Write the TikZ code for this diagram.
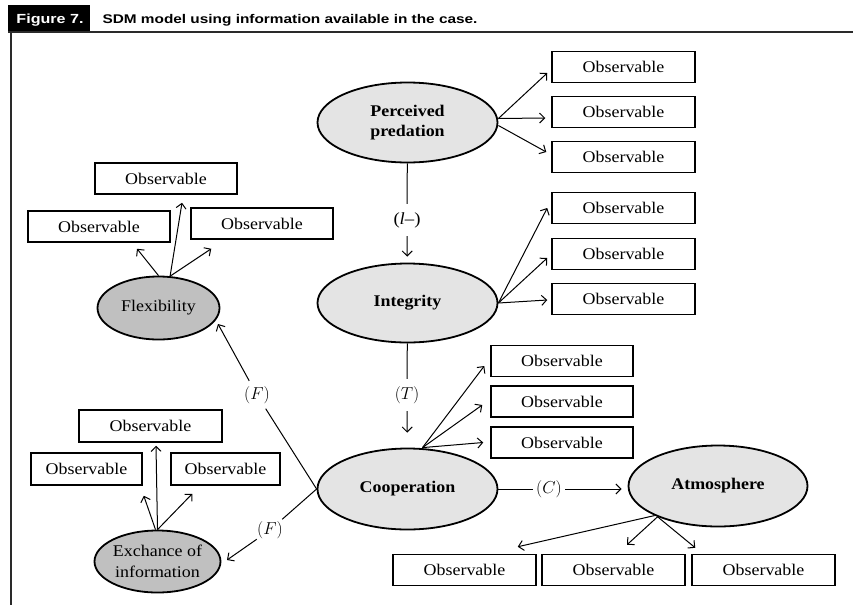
\documentclass[tikz,border=0pt]{standalone}
\usepackage{fontspec}
\setmainfont[FakeStretch=1.1]{Liberation Serif}
\newfontfamily\hdfont[FakeStretch=1.22]{Liberation Sans}
\usetikzlibrary{shapes.geometric,arrows.meta}
\definecolor{latent}{HTML}{E4E4E4}
\definecolor{latentdark}{HTML}{C0C0C0}
\definecolor{rule}{HTML}{2A2A2A}

\begin{document}
\begin{tikzpicture}[x=1pt,y=-1pt,
  lv/.style={ellipse, draw, line width=1.8pt, fill=latent, inner sep=0pt,
    align=center, font=\fontsize{16.3}{20}\selectfont\bfseries},
  lvdark/.style={ellipse, draw, line width=1.8pt, fill=latentdark, inner sep=0pt,
    align=center, font=\fontsize{16.3}{21}\selectfont},
  obs/.style={rectangle, draw, line width=1.5pt, minimum width=143pt,
    minimum height=31pt, inner sep=0pt, font=\fontsize{16.3}{20}\selectfont},
  arr/.style={line width=1pt, -{Straight Barb[length=5pt,width=10pt]}},
  con/.style={line width=1pt},
  edgelab/.style={circle, minimum size=32pt, inner sep=0pt,
    font=\fontsize{17}{20}\selectfont}
]
\useasboundingbox (0,0) rectangle (858,605);

% heading bar and frame
\fill[black] (8,5) rectangle (90,33);
\node[anchor=base, text=white, font=\hdfont\fontsize{13.2}{15}\selectfont\bfseries]
  (fignum) at (50,23) {Figure 7.};
\node[anchor=base west, font=\hdfont\fontsize{12.6}{14}\selectfont\bfseries]
  (figtitle) at (99,23) {SDM model using information available in the case.};
\draw[rule, line width=1.8pt] (8,32) -- (853,32);
\draw[rule, line width=2pt] (11,32) -- (11,605);

% latent variables
\node[lv, minimum width=180pt, minimum height=80pt] (pp) at (407.5,122.5) {Perceived\\predation};
\node[lv, minimum width=180pt, minimum height=79pt] (integ) at (407.5,303) {Integrity};
\node[lv, minimum width=180pt, minimum height=81pt] (coop) at (407.5,489) {Cooperation};
\node[lv, minimum width=179pt, minimum height=81pt] (atm) at (718,486) {Atmosphere};
\node[lvdark, minimum width=122pt, minimum height=63pt] (flex) at (158.5,308) {Flexibility};
\node[lvdark, minimum width=120pt, minimum height=62pt] (exch) at (157.5,561.5) {Exchance of\\information};

% observable indicators
\node[obs] (o1) at (623.5,67) {Observable};
\node[obs] (o2) at (623.5,112) {Observable};
\node[obs] (o3) at (623.5,157) {Observable};
\node[obs] (o4) at (623.5,208) {Observable};
\node[obs] (o5) at (623.5,254) {Observable};
\node[obs] (o6) at (623.5,299) {Observable};
\node[obs, minimum width=142pt] (o7) at (562,361) {Observable};
\node[obs, minimum width=142pt] (o8) at (562,401.5) {Observable};
\node[obs, minimum width=142pt] (o9) at (562,442.5) {Observable};
\node[obs] (b1) at (464.5,570) {Observable};
\node[obs] (b2) at (613.5,570) {Observable};
\node[obs] (b3) at (763.5,570) {Observable};
\node[obs, minimum width=142pt] (f1) at (166,178.5) {Observable};
\node[obs, minimum width=142pt] (f2) at (99,226.5) {Observable};
\node[obs, minimum width=142pt] (f3) at (262,223.5) {Observable};
\node[obs, minimum height=32pt] (e1) at (150.5,426) {Observable};
\node[obs, minimum width=111pt, minimum height=32pt] (e2) at (86.5,469) {Observable};
\node[obs, minimum width=109pt, minimum height=32pt] (e3) at (225.5,469) {Observable};

% measurement arrows
\draw[arr] ([shift={(0,-4)}]pp.east) -- ([shift={(-4,6)}]o1.west);
\draw[arr] ([shift={(0,-4)}]pp.east) -- ([shift={(-6,6)}]o2.west);
\draw[arr] ([shift={(0,3)}]pp.east) -- ([shift={(-5,-5)}]o3.west);

\draw[arr] (integ.east) -- ([shift={(-4,0)}]o4.west);
\draw[arr] (integ.east) -- ([shift={(-4,4)}]o5.west);
\draw[arr] (integ.east) -- ([shift={(-4,1)}]o6.west);

\draw[arr] ([shift={(15,0)}]coop.north) -- ([shift={(-6,5)}]o7.west);
\draw[arr] ([shift={(15,0)}]coop.north) -- ([shift={(-8,3.5)}]o8.west);
\draw[arr] ([shift={(15,0)}]coop.north) -- ([shift={(-7,0)}]o9.west);

\draw[arr] (atm.205) -- ([shift={(-19,-7)}]b1.north east);
\draw[arr] (atm.207) -- ([shift={(13.5,-9)}]b2.north);
\draw[arr] (atm.207) -- ([shift={(4,-6)}]b3.north west);

\draw[arr] (flex.north) -- ([shift={(38,6)}]f2.south);
\draw[arr] (flex.70) -- ([shift={(16,8)}]f1.south);
\draw[arr] (flex.70) -- ([shift={(21,9)}]f3.south west);

\draw[arr] ([shift={(-2,0)}]exch.north) -- ([shift={(1,10)}]e2.south east);
\draw[arr] (exch.north) -- ([shift={(5.5,3)}]e1.south);
\draw[arr] (exch.north) -- ([shift={(22,8)}]e3.south west);

% structural paths
\node[edgelab] (l1) at (407,220) {(\textit{l}–)};
\draw[con] (pp) -- (l1);
\draw[arr, shorten >=6pt] (l1) -- (integ);

\node[edgelab] (l2) at (407,395) {$(T)$};
\draw[con] (integ) -- (l2);
\draw[arr, shorten >=15pt] (l2) -- (coop);

\node[edgelab] (l3) at (549,489) {$(C)$};
\draw[con] (coop) -- (l3);
\draw[arr, shorten >=6pt] (l3) -- (l3 -| atm.west);

\node[edgelab] (l4) at (257,395) {$(F)$};
\coordinate (ftip) at (218,324);
\draw[con] (coop.west) -- (l4);
\draw[arr] (l4) -- (ftip);

\node[edgelab] (l5) at (270,530) {$(F)$};
\coordinate (etip) at (227,560);
\draw[con] (coop.west) -- (l5);
\draw[arr] (l5) -- (etip);
\end{tikzpicture}
\end{document}
